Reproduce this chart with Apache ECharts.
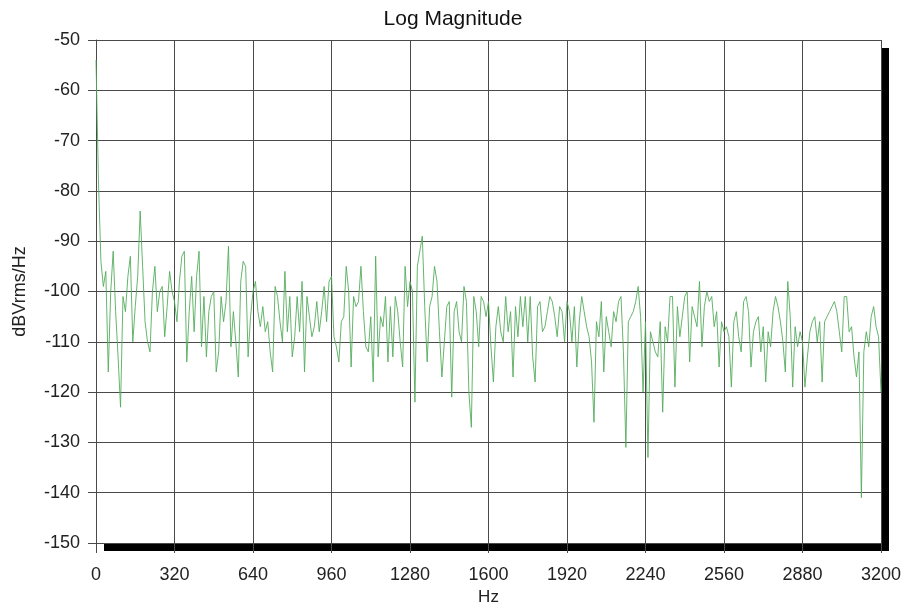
<!DOCTYPE html>
<html>
<head>
<meta charset="utf-8">
<title>Log Magnitude</title>
<script src="https://cdn.jsdelivr.net/npm/echarts@6/dist/echarts.min.js"></script>
<style>
  html, body { margin: 0; padding: 0; background: #fff; }
  #main { width: 906px; height: 603px; }
</style>
</head>
<body>
<div id="main"></div>
<script>
// spectrum, one value every 10 Hz from 0 to 3200 Hz
var binHz = 10
var magnitude = [
  -54, -78, -94, -99, -96, -116, -100, -92, -104, -113,
  -123, -101, -104, -97, -93, -110, -103, -97, -84, -95,
  -106, -110, -112, -100, -95, -104, -100, -99, -109, -103,
  -96, -100, -102, -106, -98, -93, -92, -114, -104, -97,
  -108, -97, -92, -111, -101, -113, -104, -101, -100, -116,
  -112, -101, -106, -102, -91, -111, -104, -110, -117, -98,
  -94, -95, -113, -105, -100, -98, -104, -107, -103, -108,
  -106, -112, -116, -99, -101, -106, -110, -96, -108, -101,
  -113, -109, -101, -108, -98, -116, -101, -105, -109, -107,
  -102, -108, -104, -99, -106, -98, -97, -109, -111, -114,
  -106, -105, -95, -100, -115, -101, -103, -102, -95, -104,
  -111, -112, -105, -118, -93, -113, -105, -107, -101, -114,
  -103, -113, -101, -104, -110, -115, -95, -103, -98, -100,
  -122, -95, -92, -89, -103, -114, -103, -101, -95, -98,
  -108, -117, -110, -103, -102, -121, -104, -102, -108, -110,
  -99, -102, -120, -127, -101, -104, -111, -101, -102, -105,
  -102, -111, -118, -107, -103, -108, -110, -101, -108, -104,
  -117, -103, -109, -101, -107, -101, -110, -101, -113, -118,
  -103, -102, -108, -107, -104, -101, -102, -105, -109, -103,
  -104, -110, -102, -104, -110, -103, -115, -106, -101, -104,
  -107, -109, -114, -126, -106, -109, -102, -116, -105, -108,
  -111, -104, -106, -102, -101, -112, -131, -106, -105, -104,
  -102, -99, -105, -120, -106, -133, -108, -110, -112, -113,
  -106, -124, -107, -110, -101, -101, -119, -103, -109, -105,
  -101, -100, -114, -103, -105, -107, -98, -111, -103, -100,
  -102, -101, -107, -104, -115, -106, -108, -107, -109, -119,
  -106, -104, -109, -112, -102, -101, -104, -115, -108, -106,
  -105, -112, -107, -118, -108, -111, -104, -101, -103, -106,
  -110, -116, -98, -105, -119, -107, -111, -108, -110, -119,
  -113, -108, -106, -105, -110, -106, -118, -106, -105, -104,
  -103, -102, -104, -108, -112, -101, -101, -108, -107, -113,
  -117, -112, -141, -112, -108, -111, -105, -103, -107, -109,
  -120
]

var hzMin = 0, hzMax = 3200, hzStep = 320
var dbMin = -150, dbMax = -50, dbStep = 10

var points = magnitude.map(function (v, i) { return [i * binHz, v] })

var font = 'Liberation Sans, Arial, sans-serif'
var gridColor = '#4a4a4a'

var myChart = echarts.init(document.getElementById('main'))

var option = {
  animation: false,
  backgroundColor: '#fff',
  title: {
    text: 'Log Magnitude',
    left: 'center',
    top: 4,
    textStyle: { fontFamily: font, fontSize: 21, fontWeight: 'normal', color: '#111' }
  },
  grid: {
    show: true,
    left: 96,
    right: 25,
    top: 40,
    bottom: 60,
    containLabel: false,
    outerBoundsMode: 'none',
    backgroundColor: '#fff',
    borderWidth: 0,
    shadowColor: '#000',
    shadowBlur: 0,
    shadowOffsetX: 8,
    shadowOffsetY: 8
  },
  xAxis: {
    type: 'value',
    min: hzMin,
    max: hzMax,
    interval: hzStep,
    name: 'Hz',
    nameLocation: 'middle',
    nameGap: 38,
    nameTextStyle: { fontFamily: font, fontSize: 17, color: '#222' },
    axisLine: { show: true, onZero: false, lineStyle: { color: gridColor } },
    axisTick: { show: true, length: 10, lineStyle: { color: gridColor } },
    axisLabel: {
      fontFamily: font, fontSize: 18, color: '#222', margin: 23,
      formatter: function (v) { return String(v) }
    },
    splitLine: { show: true, lineStyle: { color: gridColor, width: 1 } }
  },
  yAxis: {
    type: 'value',
    min: dbMin,
    max: dbMax,
    interval: dbStep,
    name: 'dBVrms/Hz',
    nameLocation: 'middle',
    nameGap: 67,
    nameRotate: 90,
    nameTextStyle: { fontFamily: font, fontSize: 18, color: '#222' },
    axisLine: { show: true, lineStyle: { color: gridColor } },
    axisTick: { show: true, length: 8, lineStyle: { color: gridColor } },
    axisLabel: {
      fontFamily: font, fontSize: 18, color: '#222', margin: 16,
      formatter: function (v) { return String(v) }
    },
    splitLine: { show: true, lineStyle: { color: gridColor, width: 1 } }
  },
  series: [{
    type: 'line',
    data: points,
    showSymbol: false,
    symbol: 'none',
    lineStyle: { color: '#55ad5c', width: 0.9 }
  }]
}

myChart.setOption(option)
</script>
</body>
</html>
